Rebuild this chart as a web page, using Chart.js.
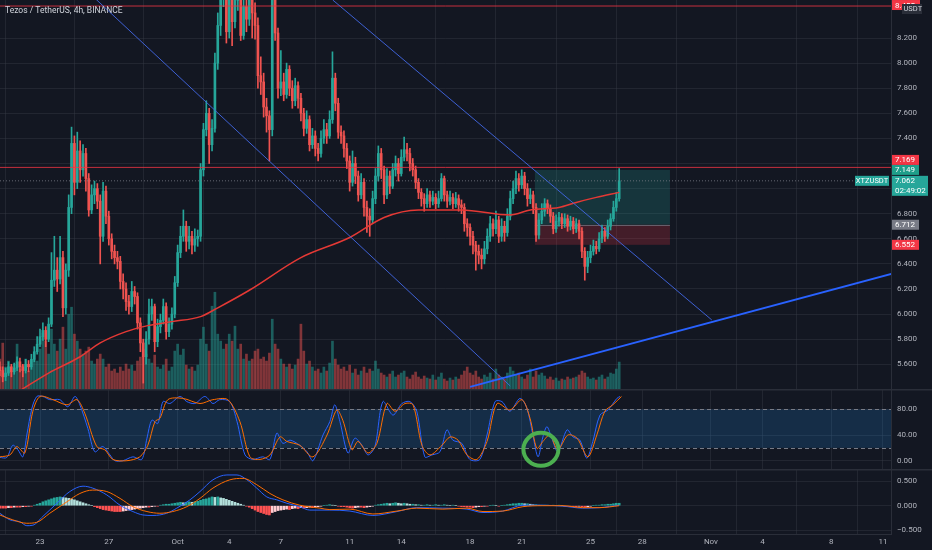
<!DOCTYPE html>
<html>
<head>
<meta charset="utf-8">
<script src="https://cdn.jsdelivr.net/npm/chart.js@4.4.1/dist/chart.umd.min.js"></script>
<style>
  html, body { margin: 0; background: #131722; }
  #wrap { position: relative; width: 932px; height: 550px; overflow: hidden; background: #131722; }
  canvas { position: absolute; left: 0; }
</style>
</head>
<body>
<div id="wrap">
  <canvas id="main" width="932" height="389" style="top:0"></canvas>
  <canvas id="stoch" width="932" height="80" style="top:389px"></canvas>
  <canvas id="macd" width="932" height="81" style="top:469px"></canvas>
</div>
<script>
// ---- data (4h candles, index 0 = Sep 20 16:00) ----
const title = "Tezos / TetherUS, 4h, BINANCE";
const firstOpen = 5.58;
const closes = [
  5.55,5.50,5.53,5.58,5.54,5.57,5.62,5.58,5.55,5.60,
  5.58,5.64,5.70,5.76,5.82,5.87,5.80,5.92,6.27,6.35,
  6.28,6.45,6.05,6.35,6.85,7.36,7.05,7.30,7.15,7.28,
  7.08,6.83,6.95,7.00,6.90,6.62,6.98,6.78,6.60,6.50,
  6.45,6.42,6.26,6.20,6.10,6.06,6.18,6.14,5.93,5.77,
  5.66,5.80,6.00,6.06,5.78,5.90,5.95,6.06,5.86,5.92,
  6.00,6.25,6.49,6.62,6.70,6.58,6.62,6.55,6.60,6.62,
  7.15,7.47,7.60,7.35,7.48,8.00,8.30,8.55,8.65,8.25,
  8.55,8.33,8.50,8.60,8.22,8.45,8.35,8.55,8.40,8.30,
  7.90,7.85,7.65,7.58,7.47,8.60,8.24,7.80,7.85,7.75,
  7.95,7.80,7.70,7.82,7.72,7.60,7.48,7.55,7.35,7.42,
  7.32,7.28,7.40,7.47,7.42,7.55,7.88,7.68,7.45,7.42,
  7.32,7.22,7.05,7.20,7.10,6.95,7.05,6.85,6.78,6.75,
  6.92,7.10,7.28,7.15,6.95,7.10,7.02,7.15,7.20,7.12,
  7.25,7.31,7.28,7.20,7.15,7.05,6.97,6.92,6.88,6.95,
  6.90,6.93,6.88,6.92,7.08,6.95,6.90,6.93,6.88,6.92,
  6.87,6.85,6.72,6.69,6.62,6.55,6.50,6.47,6.44,6.52,
  6.62,6.72,6.68,6.75,6.62,6.70,6.65,6.78,6.92,7.00,
  7.08,7.03,7.10,7.00,6.92,6.95,6.85,6.63,6.75,6.82,
  6.88,6.84,6.78,6.68,6.74,6.77,6.72,6.76,6.70,6.74,
  6.68,6.72,6.66,6.50,6.38,6.45,6.50,6.54,6.52,6.60,
  6.66,6.62,6.70,6.76,6.85,6.92,7.062
];
const highs = [
  5.62,5.58,5.57,5.62,5.60,5.61,5.66,5.65,5.60,5.64,
  5.63,5.68,5.74,5.82,5.88,5.93,5.90,5.97,6.49,6.62,
  6.45,6.62,6.50,6.40,6.95,7.49,7.42,7.45,7.38,7.35,
  7.32,7.12,7.03,7.06,7.04,6.95,7.05,7.02,6.82,6.64,
  6.55,6.50,6.46,6.32,6.25,6.15,6.26,6.22,6.17,5.97,
  5.80,5.86,6.12,6.12,6.08,5.96,6.00,6.12,6.09,5.97,
  6.05,6.30,6.55,6.70,6.83,6.74,6.70,6.66,6.68,6.67,
  7.20,7.52,7.70,7.64,7.55,8.08,8.40,8.70,8.80,8.70,
  8.70,8.62,8.65,8.75,8.66,8.60,8.55,8.68,8.62,8.48,
  8.36,8.05,7.92,7.72,7.62,8.80,8.70,8.28,8.10,7.92,
  8.00,7.98,7.86,7.88,7.85,7.76,7.64,7.62,7.58,7.48,
  7.46,7.36,7.46,7.55,7.52,7.62,8.09,7.92,7.72,7.50,
  7.46,7.36,7.26,7.30,7.25,7.14,7.12,7.08,6.90,6.84,
  6.98,7.16,7.34,7.32,7.18,7.16,7.14,7.20,7.26,7.24,
  7.31,7.41,7.36,7.32,7.24,7.18,7.08,7.00,6.96,7.00,
  6.98,6.98,6.96,6.98,7.12,7.10,6.98,6.98,6.96,6.97,
  6.95,6.91,6.88,6.76,6.72,6.66,6.58,6.55,6.52,6.58,
  6.68,6.78,6.76,6.82,6.78,6.76,6.74,6.84,6.98,7.06,
  7.14,7.12,7.15,7.13,7.04,7.00,6.98,6.88,6.80,6.88,
  6.92,6.91,6.87,6.81,6.79,6.81,6.80,6.80,6.79,6.78,
  6.77,6.76,6.75,6.69,6.53,6.50,6.55,6.59,6.58,6.65,
  6.71,6.69,6.75,6.80,6.90,6.97,7.16
];
const lows = [
  5.51,5.46,5.47,5.51,5.50,5.52,5.55,5.54,5.50,5.53,
  5.54,5.56,5.62,5.68,5.74,5.79,5.74,5.78,5.90,6.22,
  6.18,6.24,5.98,6.00,6.30,6.80,6.95,7.00,7.05,7.10,
  6.98,6.78,6.80,6.88,6.84,6.40,6.58,6.72,6.55,6.44,
  6.40,6.36,6.20,6.12,6.03,6.00,6.02,6.08,5.88,5.70,
  5.45,5.60,5.76,5.95,5.70,5.74,5.85,5.92,5.80,5.82,
  5.88,5.97,6.22,6.45,6.58,6.50,6.52,6.48,6.50,6.54,
  6.58,7.10,7.42,7.20,7.30,7.45,7.95,8.22,8.45,8.16,
  8.20,8.14,8.28,8.42,8.18,8.19,8.25,8.30,8.20,8.19,
  7.80,7.75,7.57,7.45,7.22,7.42,8.18,7.72,7.74,7.70,
  7.72,7.74,7.64,7.66,7.64,7.54,7.42,7.44,7.30,7.32,
  7.26,7.22,7.25,7.36,7.36,7.40,7.52,7.62,7.40,7.36,
  7.25,7.16,6.98,7.02,7.04,6.90,6.92,6.78,6.65,6.62,
  6.72,6.88,7.06,7.08,6.88,6.92,6.96,7.00,7.10,7.06,
  7.10,7.22,7.22,7.14,7.10,7.00,6.92,6.86,6.82,6.85,
  6.85,6.87,6.84,6.85,6.90,6.90,6.85,6.87,6.84,6.85,
  6.82,6.80,6.66,6.62,6.55,6.48,6.35,6.40,6.36,6.40,
  6.48,6.58,6.62,6.64,6.57,6.58,6.58,6.62,6.75,6.88,
  6.96,6.98,7.00,6.95,6.86,6.88,6.80,6.58,6.60,6.72,
  6.78,6.80,6.73,6.64,6.65,6.70,6.68,6.69,6.66,6.67,
  6.64,6.65,6.60,6.45,6.27,6.33,6.41,6.47,6.48,6.50,
  6.57,6.58,6.60,6.67,6.74,6.82,6.90
];
// volume, thousand XTZ
const volumes = [
  30,46,22,28,18,25,45,20,24,30,18,22,30,
  28,40,56,48,35,
  60,45,38,50,62,40,75,82,
  55,48,40,35,38,42,28,25,30,
  35,30,22,25,18,20,16,22,18,25,20,24,18,28,32,
  40,35,30,26,34,22,20,24,30,18,22,
  38,45,34,40,24,20,22,18,24,
  50,62,45,38,83,97,55,48,40,45,
  55,48,63,40,45,30,35,28,30,38,
  40,30,32,28,36,70,45,40,30,25,
  22,25,20,24,30,65,38,25,28,22,
  18,20,16,22,18,26,48,30,24,20,
  22,18,24,16,20,14,18,22,16,20,
  18,28,20,16,14,12,15,18,12,14,
  16,18,12,10,14,17,12,10,13,11,
  10,14,9,12,16,10,8,11,9,12,
  10,14,18,22,16,14,18,12,10,14,
  12,16,10,20,14,12,10,16,22,18,
  14,16,12,10,14,20,12,18,14,16,
  13,10,12,9,11,8,10,9,12,10,
  11,12,14,18,16,12,10,11,9,12,
  14,10,12,16,15,20,27
];
// moving average (red)
const maIdx  = [7, 17, 28, 35, 44, 52, 60, 70, 76, 87, 105, 122, 134, 146, 161, 178, 185, 195, 201, 208, 216];
const maVals = [5.39, 5.53, 5.66, 5.77, 5.86, 5.91, 5.94, 5.98, 6.05, 6.19, 6.45, 6.61, 6.77, 6.83, 6.83, 6.79, 6.83, 6.85, 6.89, 6.93, 6.97];
// drawn trend lines: [candle index, price]
const trendDownA = [[30, 8.584], [178, 5.427]];
const trendDownB = [[116.1, 8.503], [248.3, 5.953]];
const trendUp    = [[164, 5.42], [311, 6.32]];
const levelLines = [8.455, 7.169];
// long position tool
const posIdx = [186.6, 233.7];
const posTarget = 7.149, posEntry = 6.712, posStop = 6.552;
const lastClock = "02:49:02";
// axes
const priceTicks = [5.6, 5.8, 6.0, 6.2, 6.4, 6.6, 6.8, 7.0, 7.2, 7.4, 7.6, 7.8, 8.0, 8.2];
const dayTicks  = [14, 38, 62, 80, 98, 122, 140, 164, 182, 206, 224, 248, 266, 290, 308];
const dayLabels = ["23", "27", "Oct", "4", "7", "11", "14", "18", "21", "25", "28", "Nov", "4", "8", "11"];
const stochTicks = [0, 40, 80];
const macdTicks = [-0.5, 0, 0.5];
// stoch RSI
const kIdx  = [0,2.4,4.5,6.3,8,9.4,11.2,12.9,15,17.4,20.9,23.7,26.2,27.9,30.7,33.1,35.9,38.4,40.1,42.9,46.4,49.5,51.3,53,55.1,56.9,59.3,62.8,65.2,68,71.5,74.3,76.7,80.2,82.7,85.5,88.2,91.7,94.2,96.6,98.7,101.2,104.6,107.1,109.2,112.7,115.1,116.8,118.6,121.4,123.8,126.3,128.4,130.8,133.6,137.1,140.2,143,145.4,148.2,150.7,153.5,155.9,158,161.1,163.9,167.4,169.9,172.7,175.1,177.9,181.4,183.8,185.9,187.7,189.4,190.8,192.5,194.6,197.8,199.9,202.3,204.7,206.8,209.3,212.1,215.2,216.3];
const kVals = [5,5,24,17,6,40,82,100,100,95,95,84,100,87,50,14,22,9,0,0,6,2,35,63,58,92,89,100,92,89,100,89,95,92,61,9,2,6,2,43,27,32,24,14,0,40,61,87,61,12,35,24,9,22,92,71,89,92,77,6,9,14,48,32,27,2,2,40,92,92,77,97,82,40,6,37,53,35,14,48,37,32,4,30,71,79,97,100];
const dIdx  = [0,3.5,5.9,8.7,11.5,14,18.5,23.4,26.9,29.6,33.8,36.6,39.4,44.3,48.8,51.6,54.1,55.8,58.6,63.8,69.8,74.3,79.5,83.7,87.2,90.7,94.2,97.7,100.1,104.6,109.2,114.1,117.5,119.6,122.8,124.9,128.4,131.5,135,137.8,141.3,144.1,147.2,150,154.2,157,159.8,162.9,166.4,169.9,173.4,177.9,182.1,184.9,187.3,189.4,191.8,194.6,198.1,201.3,205.1,208.2,211,213.8,216.8];
const dVals = [6,9,22,12,77,100,95,87,95,74,22,17,2,0,6,24,61,66,95,97,89,95,95,61,6,2,9,37,30,24,6,40,79,63,17,30,12,27,89,77,89,87,24,9,24,37,32,9,2,30,89,79,95,66,19,30,40,17,40,35,6,40,77,87,100];
const circleAt = [188.7, 17.7];
// MACD
const macdIdx  = [0,3.5,7,9.4,11.5,15,19.9,24.4,29,32.4,37.3,41.9,46.4,49.9,53.4,58.2,61.7,66.3,69.8,74.3,79.2,82.7,86.2,89.6,93.1,96.6,100.1,104.6,108.1,115.1,122.1,130.1,138.5,145.4,154.5,162.9,168.5,175.4,182.4,189.4,196.4,203.3,209.3,216];
const macdVals = [-0.155,-0.29,-0.33,-0.41,-0.40,-0.22,0.05,0.29,0.40,0.36,0.22,0.01,-0.12,-0.19,-0.20,-0.155,-0.05,0.12,0.29,0.53,0.63,0.63,0.53,0.36,0.18,0.12,0.05,-0.02,-0.09,-0.09,-0.11,-0.20,-0.12,-0.04,-0.05,-0.07,-0.14,-0.11,0.01,0.01,-0.01,-0.05,-0.04,0.01];
const signalIdx  = [0,4.5,9.4,12.9,17.4,23.4,27.9,32.4,37.3,41.9,46.4,51.3,55.8,60.3,65.2,69.8,74.3,80.2,84.8,89.6,94.2,98.7,104.6,111.6,115.1,122.1,130.1,138.5,145.4,154.5,162.9,168.5,175.4,182.4,189.4,196.4,203.3,209.3,216];
const signalVals = [-0.19,-0.29,-0.36,-0.34,-0.155,0.08,0.25,0.32,0.29,0.15,-0.02,-0.12,-0.155,-0.12,-0.02,0.15,0.36,0.53,0.56,0.43,0.25,0.12,0.01,-0.05,-0.08,-0.07,-0.17,-0.11,-0.05,-0.07,-0.05,-0.12,-0.11,-0.02,0,0,-0.04,-0.04,0];
const histVals = [
  -0.05,-0.05,-0.05,-0.04,-0.04,-0.03,-0.03,-0.03,-0.02,-0.02,-0.01,-0.01,
  0.01,0.03,0.05,0.08,0.10,0.12,
  0.14,0.16,0.17,0.18,0.17,0.16,
  0.15,0.14,0.12,0.10,0.08,0.06,0.04,0.02,0,
  -0.02,-0.04,-0.06,-0.08,-0.09,-0.10,-0.11,-0.12,-0.12,-0.12,-0.11,-0.10,-0.09,-0.08,-0.07,-0.06,
  -0.05,-0.04,-0.03,-0.03,-0.02,-0.01,-0.01,
  0.01,0.02,0.03,0.03,0.04,0.05,0.06,0.07,0.06,0.07,0.08,0.07,0.08,0.09,
  0.11,0.13,0.14,0.16,0.18,0.17,0.18,0.16,0.15,
  0.13,0.11,0.09,0.07,0.05,0.03,0.01,-0.01,
  -0.03,-0.06,-0.09,-0.12,-0.14,-0.16,-0.18,-0.19,-0.14,
  -0.12,-0.10,-0.09,-0.08,-0.07,-0.08,-0.06,-0.05,-0.06,-0.04,-0.05,-0.04,-0.03,-0.04,-0.03,
  -0.02,-0.01,0,0.01,0.02,0.01,0,-0.01,-0.02,-0.02,
  -0.03,-0.04,-0.05,-0.04,-0.03,-0.03,-0.04,-0.03,-0.02,-0.01,
  0.01,0.02,0.03,0.04,0.05,0.04,0.05,0.06,0.05,0.04,
  0.05,0.04,0.03,0.03,0.02,0.02,0.01,0.01,0.02,0.01,
  0.01,0.02,0.01,0.01,0.02,0.01,0,0.01,0,-0.01,
  -0.02,-0.02,-0.03,-0.03,-0.04,-0.03,-0.02,-0.02,-0.01,-0.01,
  0,0.01,0,-0.01,0,0.01,0.02,0.03,0.04,0.04,
  0.05,0.05,0.04,0.04,0.03,0.02,0.02,0.01,0.01,0.01,
  0.01,0,0.01,0,0.01,0,-0.01,-0.01,-0.02,-0.02,
  -0.02,-0.01,-0.02,-0.03,-0.02,-0.01,0,0.01,0.01,0.02,
  0.02,0.03,0.03,0.04,0.05,0.05
];

// ---- look ----
const xMin = 0.045, xMax = 310.8;
const AXIS_W = 41;
const GRID = "rgba(54,58,69,0.45)";
const EDGE = "#2a2e39";
const TEXT = "#b2b5be";
const UP = "#26a69a", DOWN = "#ef5350";
const FAMILY = 'Roboto, "Noto Sans", "DejaVu Sans", sans-serif';
const FONT = { family: FAMILY, size: 8 };
Chart.defaults.font.family = FAMILY;

const opens = closes.map((c, i) => (i === 0 ? firstOpen : closes[i - 1]));
const isUp = (i) => closes[i] >= opens[i];
const pts = (xs, ys) => xs.map((x, k) => ({ x: x, y: ys[k] }));
const seg = (p) => p.map(([x, y]) => ({ x: x, y: y }));

// no extra padding around the plot areas
function noPad(s) {
  s.paddingTop = 0; s.paddingBottom = 0; s.paddingLeft = 0; s.paddingRight = 0;
}

function xAxis(showLabels) {
  return {
    type: "linear", min: xMin, max: xMax, offset: false,
    grid: { color: GRID, drawTicks: false },
    border: { display: showLabels, color: EDGE },
    ticks: {
      display: showLabels, color: TEXT, font: FONT, padding: 3,
      maxRotation: 0, autoSkip: false,
      callback: (v, i) => dayLabels[i],
    },
    afterBuildTicks: (s) => { s.ticks = dayTicks.map((v) => ({ value: v })); },
    afterFit: (s) => { s.height = showLabels ? 16 : 0; noPad(s); },
  };
}

function yAxis(min, max, ticks, digits) {
  return {
    position: "right", min: min, max: max,
    grid: { color: GRID, drawTicks: false },
    border: { color: EDGE },
    ticks: {
      color: TEXT, font: FONT, padding: 6, autoSkip: false,
      callback: (v) => Number(v).toFixed(digits).replace("-", "\u2212"),
    },
    afterBuildTicks: (s) => { s.ticks = ticks.map((v) => ({ value: v })); },
    afterFit: (s) => { s.width = AXIS_W; noPad(s); },
  };
}

const quiet = { legend: { display: false }, tooltip: { enabled: false } };

function lineDs(data, color, width, extra) {
  return Object.assign({
    type: "line", data: data, borderColor: color, borderWidth: width,
    pointRadius: 0, fill: false, order: 1,
  }, extra || {});
}

const separator = {
  id: "separator",
  afterDraw(chart) {
    const ctx = chart.ctx;
    ctx.save();
    ctx.strokeStyle = EDGE;
    ctx.lineWidth = 2;
    ctx.beginPath();
    ctx.moveTo(0, 0.5);
    ctx.lineTo(chart.width, 0.5);
    ctx.stroke();
    ctx.restore();
  },
};

// ---- main price panel ----
const positionBox = {
  id: "positionBox",
  beforeDatasetsDraw(chart) {
    const { ctx, scales: { x, y } } = chart;
    const l = x.getPixelForValue(posIdx[0]), r = x.getPixelForValue(posIdx[1]);
    const t = y.getPixelForValue(posTarget), e = y.getPixelForValue(posEntry), s = y.getPixelForValue(posStop);
    ctx.save();
    ctx.fillStyle = "rgba(38,166,154,0.22)";
    ctx.fillRect(l, t, r - l, e - t);
    ctx.fillStyle = "rgba(242,54,69,0.22)";
    ctx.fillRect(l, e, r - l, s - e);
    ctx.strokeStyle = "rgba(120,123,134,0.7)";
    ctx.lineWidth = 1;
    ctx.beginPath();
    ctx.moveTo(l, Math.round(e) + 0.5);
    ctx.lineTo(r, Math.round(e) + 0.5);
    ctx.stroke();
    ctx.restore();
  },
};

function drawTag(ctx, top, h, w, bg, lines) {
  ctx.fillStyle = bg;
  ctx.fillRect(892, top, w, h);
  ctx.fillStyle = "#ffffff";
  ctx.font = "8px " + FAMILY;
  ctx.textBaseline = "middle";
  ctx.textAlign = "left";
  lines.forEach((t, k) => ctx.fillText(t, 895, top + 5.5 + k * 10));
}

const overlay = {
  id: "overlay",
  afterDraw(chart) {
    const { ctx, scales: { y } } = chart;
    ctx.save();
    ctx.font = "8.5px " + FAMILY;
    ctx.fillStyle = "#d1d4dc";
    ctx.textBaseline = "middle";
    ctx.fillText(title, 5, 11);

    const last = closes[closes.length - 1];
    const tags = [
      { v: posStop, bg: "#f23645", lines: [posStop.toFixed(3)] },
      { v: posEntry, bg: "#787b86", lines: [posEntry.toFixed(3)] },
      { v: last, bg: "#26a69a", lines: [last.toFixed(3), lastClock], w: 36 },
      { v: posTarget, bg: "#1f9e8a", lines: [posTarget.toFixed(3)] },
      { v: levelLines[1], bg: "#f23645", lines: [levelLines[1].toFixed(3)] },
    ];
    let prevTop = Infinity;
    tags.forEach((t) => {
      const h = t.lines.length * 10;
      let top = y.getPixelForValue(t.v) - 5;
      if (top + h > prevTop) top = prevTop - h;
      prevTop = top;
      drawTag(ctx, top, h, t.w || 27, t.bg, t.lines);
    });

    // symbol label on the last price
    const ly = y.getPixelForValue(last);
    ctx.fillStyle = "#26a69a";
    ctx.fillRect(855, ly - 5, 34, 10);
    ctx.fillStyle = "#ffffff";
    ctx.font = "7.5px " + FAMILY;
    ctx.textAlign = "center";
    ctx.fillText("XTZUSDT", 872, ly + 0.5);

    // top level tag, partly under the currency badge
    const ty = y.getPixelForValue(levelLines[0]);
    ctx.textAlign = "left";
    drawTag(ctx, Math.max(0, ty - 6), 10, 28, "#f23645", [levelLines[0].toFixed(3)]);
    ctx.fillStyle = "#2a2e39";
    ctx.fillRect(902, 4, 20, 10);
    ctx.fillStyle = "#d1d4dc";
    ctx.font = "7.5px " + FAMILY;
    ctx.fillText("USDT", 903.5, 9.5);
    ctx.restore();
  },
};

const candleColor = (c) => (isUp(c.dataIndex) ? UP : DOWN);

new Chart(document.getElementById("main"), {
  type: "bar",
  data: {
    datasets: [
      {
        type: "bar", yAxisID: "yv", grouped: false, order: 6,
        data: volumes.map((v, i) => ({ x: i, y: v })),
        backgroundColor: (c) => (isUp(c.dataIndex) ? "rgba(38,166,154,0.5)" : "rgba(239,83,80,0.5)"),
        barThickness: 2, borderWidth: 0,
      },
      {
        type: "bar", grouped: false, order: 5,
        data: closes.map((c, i) => ({ x: i, y: [lows[i], highs[i]] })),
        backgroundColor: candleColor, barThickness: 1, borderWidth: 0,
      },
      {
        type: "bar", grouped: false, order: 4,
        data: closes.map((c, i) => ({ x: i, y: [opens[i], c] })),
        backgroundColor: candleColor, barThickness: 2, minBarLength: 1, borderWidth: 0,
      },
      lineDs(pts(maIdx, maVals), "#e53935", 1.5, { order: 3, cubicInterpolationMode: "monotone" }),
      lineDs(seg(trendDownA), "rgba(66,104,230,0.9)", 1),
      lineDs(seg(trendDownB), "rgba(66,104,230,0.9)", 1),
      lineDs(seg(trendUp), "#2962ff", 2),
      lineDs(seg([[xMin, levelLines[0]], [xMax, levelLines[0]]]), "rgba(242,54,69,0.8)", 1),
      lineDs(seg([[xMin, levelLines[1]], [xMax, levelLines[1]]]), "rgba(242,54,69,0.8)", 1),
      lineDs(seg([[xMin, closes[closes.length - 1]], [xMax, closes[closes.length - 1]]]),
        "rgba(120,123,134,0.8)", 1, { borderDash: [1, 2] }),
    ],
  },
  options: {
    responsive: false, animation: false,
    layout: { padding: 0 },
    plugins: quiet,
    scales: {
      x: xAxis(false),
      y: yAxis(5.403, 8.503, priceTicks, 3),
      yv: { display: false, min: 0, max: 390 },
    },
  },
  plugins: [positionBox, overlay],
});

// ---- stoch RSI panel ----
const stochBand = {
  id: "stochBand",
  beforeDatasetsDraw(chart) {
    const { ctx, chartArea: a, scales: { y } } = chart;
    const t = y.getPixelForValue(80), b = y.getPixelForValue(20);
    ctx.save();
    ctx.fillStyle = "rgba(33,150,243,0.18)";
    ctx.fillRect(a.left, t, a.right - a.left, b - t);
    ctx.strokeStyle = "#787b86";
    ctx.lineWidth = 1;
    ctx.setLineDash([4, 3]);
    [t, b].forEach((py) => {
      ctx.beginPath();
      ctx.moveTo(a.left, Math.round(py) + 0.5);
      ctx.lineTo(a.right, Math.round(py) + 0.5);
      ctx.stroke();
    });
    ctx.restore();
  },
  afterDatasetsDraw(chart) {
    const { ctx, scales: { x, y } } = chart;
    ctx.save();
    ctx.strokeStyle = "#4caf50";
    ctx.lineWidth = 4;
    ctx.beginPath();
    ctx.ellipse(x.getPixelForValue(circleAt[0]), y.getPixelForValue(circleAt[1]), 17.5, 16.5, 0, 0, Math.PI * 2);
    ctx.stroke();
    ctx.restore();
  },
};

new Chart(document.getElementById("stoch"), {
  type: "line",
  data: {
    datasets: [
      lineDs(pts(dIdx, dVals), "#ff6d00", 1, { tension: 0.3 }),
      lineDs(pts(kIdx, kVals), "#2962ff", 1, { tension: 0.3 }),
    ],
  },
  options: {
    responsive: false, animation: false,
    layout: { padding: 0 },
    plugins: quiet,
    scales: { x: xAxis(false), y: yAxis(-12.9, 111.6, stochTicks, 2) },
  },
  plugins: [stochBand, separator],
});

// ---- MACD panel ----
new Chart(document.getElementById("macd"), {
  type: "bar",
  data: {
    datasets: [
      {
        type: "bar", order: 3, grouped: false,
        data: histVals.map((v, i) => ({ x: i, y: v })),
        backgroundColor: (c) => {
          const i = c.dataIndex, v = histVals[i], p = i > 0 ? histVals[i - 1] : v;
          if (v >= 0) return v >= p ? "#26a69a" : "#b2dfdb";
          return v <= p ? "#ff5252" : "#ffcdd2";
        },
        barThickness: 2, borderWidth: 0,
      },
      lineDs(pts(signalIdx, signalVals), "#ff6d00", 1, { cubicInterpolationMode: "monotone" }),
      lineDs(pts(macdIdx, macdVals), "#2962ff", 1, { cubicInterpolationMode: "monotone" }),
    ],
  },
  options: {
    responsive: false, animation: false,
    layout: { padding: 0 },
    plugins: quiet,
    scales: { x: xAxis(true), y: yAxis(-0.58, 0.752, macdTicks, 3) },
  },
  plugins: [separator],
});
</script>
</body>
</html>
